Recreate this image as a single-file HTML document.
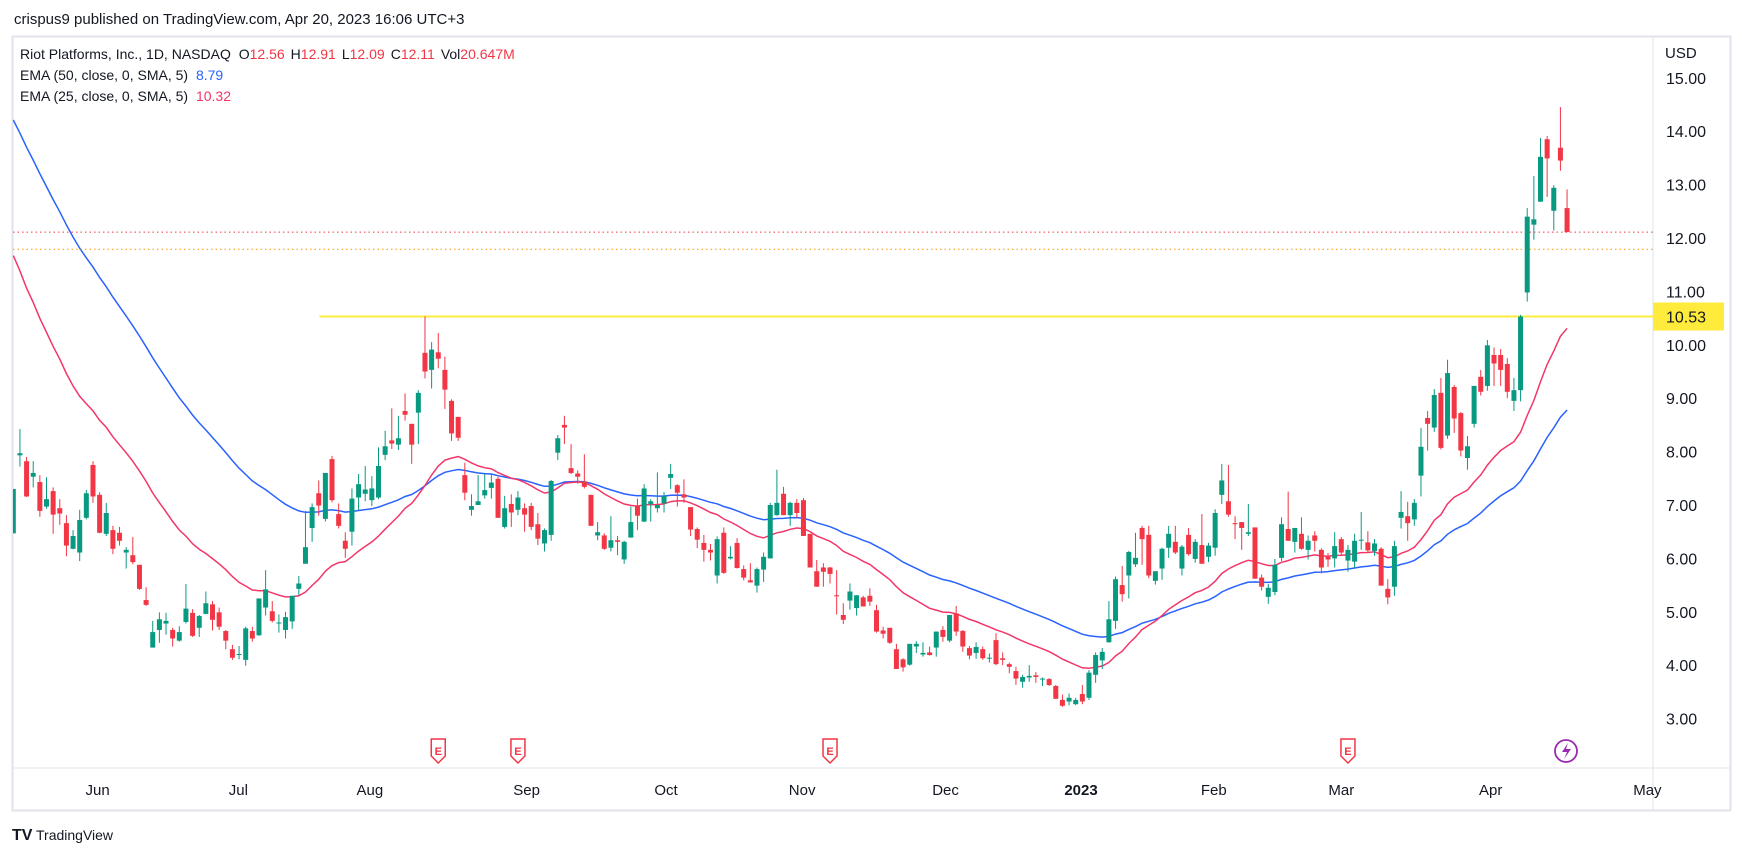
<!DOCTYPE html>
<html><head><meta charset="utf-8"><style>
body{margin:0;background:#fff;width:1742px;height:856px;overflow:hidden;font-family:"Liberation Sans",sans-serif;}
svg{position:absolute;left:0;top:0}
</style></head><body>
<svg id="chart" width="1742" height="856" xmlns="http://www.w3.org/2000/svg">
<text x="14" y="24" font-size="15" fill="#131722">crispus9 published on TradingView.com, Apr 20, 2023 16:06 UTC+3</text>
<rect x="12.5" y="36.5" width="1718" height="774" fill="none" stroke="#e0e3eb" stroke-width="2"/>
<line x1="1653" y1="37" x2="1653" y2="810" stroke="#e0e3eb"/>
<line x1="13" y1="768" x2="1730" y2="768" stroke="#e0e3eb"/>
<defs><clipPath id="plot"><rect x="13" y="37" width="1640" height="731"/></clipPath></defs>
<g id="lines" clip-path="url(#plot)"></g>
<g id="candles" clip-path="url(#plot)"></g>
<g id="axis"></g>
<g font-size="14" fill="#131722">
<text x="20" y="59">Riot Platforms, Inc., 1D, NASDAQ <tspan dx="4">O</tspan><tspan fill="#f23645">12.56</tspan><tspan dx="6">H</tspan><tspan fill="#f23645">12.91</tspan><tspan dx="6">L</tspan><tspan fill="#f23645">12.09</tspan><tspan dx="6">C</tspan><tspan fill="#f23645">12.11</tspan><tspan dx="6">Vol</tspan><tspan fill="#f23645">20.647M</tspan></text>
<text x="20" y="80">EMA (50, close, 0, SMA, 5) <tspan dx="4" fill="#2962ff">8.79</tspan></text>
<text x="20" y="101">EMA (25, close, 0, SMA, 5) <tspan dx="4" fill="#f23669">10.32</tspan></text>
</g>
<text x="1665" y="58" font-size="15" fill="#131722">USD</text>
<g>
<text x="12" y="840" font-size="16" font-weight="bold" fill="#131722">TV</text>
<text x="36" y="840" font-size="14" fill="#131722">TradingView</text>
</g>
</svg>
<script>
const opens=[6.47,7.93,7.82,7.53,7.43,6.97,7.26,6.94,6.66,6.18,6.11,6.76,7.75,7.19,6.46,6.53,6.48,6.11,6.06,5.88,5.22,4.33,4.66,4.78,4.66,4.46,4.81,4.98,4.70,4.96,5.14,4.99,4.64,4.30,4.20,4.10,4.64,4.56,5.08,5.01,4.79,4.66,4.82,5.43,5.90,6.57,7.22,6.74,7.86,6.83,6.33,6.50,7.14,7.21,7.09,7.14,7.94,8.21,8.13,8.76,8.52,8.73,9.85,9.53,9.86,9.53,8.95,8.65,7.56,6.91,7.00,7.18,7.32,7.49,6.59,7.02,6.91,6.94,6.98,6.64,6.28,6.44,7.98,8.50,7.69,7.59,7.44,7.19,6.43,6.43,6.20,6.34,5.98,6.39,6.99,6.69,7.02,6.94,7.03,7.51,7.37,7.20,6.96,6.55,6.29,6.16,5.68,6.48,6.00,6.29,5.80,5.59,5.49,5.79,6.00,6.81,7.21,6.81,7.04,7.09,6.46,5.76,5.83,5.83,5.31,4.94,5.21,5.07,5.27,5.30,5.03,4.65,4.70,4.30,4.11,4.01,4.35,4.20,4.24,4.33,4.66,4.46,4.97,4.64,4.32,4.23,4.30,4.13,4.47,4.13,4.02,3.89,3.69,3.77,3.81,3.74,3.74,3.61,3.35,3.32,3.27,3.46,3.39,3.82,4.09,4.43,4.83,5.50,5.68,5.89,6.57,6.44,5.58,5.81,6.20,6.31,5.81,6.44,5.99,6.25,6.03,6.20,7.19,7.07,6.66,6.68,6.46,6.58,5.64,5.28,5.37,6.01,6.55,6.31,6.46,6.16,6.43,6.16,6.03,6.00,6.36,5.96,5.94,6.34,6.30,6.14,6.18,5.43,5.47,6.76,6.79,6.73,7.55,8.63,8.45,9.10,8.30,9.21,8.72,7.88,8.52,9.40,9.23,9.81,9.81,9.64,8.95,9.15,10.98,12.25,12.68,13.85,12.51,13.69,12.56];
const highs=[7.30,8.42,7.90,7.82,7.56,7.52,7.33,7.11,6.81,6.53,6.91,7.28,7.82,7.24,7.04,6.61,6.59,6.21,6.40,5.88,5.46,4.83,4.99,4.98,4.70,4.73,5.52,5.05,4.94,5.38,5.20,5.08,4.66,4.38,4.36,4.72,4.72,5.25,5.78,5.20,4.95,5.00,5.30,5.67,6.89,7.03,7.46,7.60,7.92,7.03,6.49,7.31,7.58,7.73,7.54,8.08,8.39,8.81,8.67,9.09,8.52,9.15,10.53,10.05,10.22,9.78,8.98,8.65,7.79,7.20,7.56,7.59,7.59,7.53,7.17,7.20,7.26,7.03,7.04,6.85,6.56,7.47,8.31,8.67,8.14,7.65,7.95,7.19,6.68,6.47,6.79,6.42,6.33,6.97,7.12,7.39,7.11,7.61,7.24,7.77,7.39,7.48,6.96,6.58,6.44,6.27,6.41,6.58,6.23,6.38,5.87,5.91,5.83,6.11,7.04,7.66,7.34,7.06,7.11,7.13,6.46,5.97,5.91,5.84,5.78,5.16,5.53,5.31,5.30,5.44,5.13,4.72,4.70,4.40,4.13,4.40,4.45,4.43,4.35,4.63,4.73,4.94,5.11,4.66,4.36,4.43,4.35,4.22,4.60,4.24,4.05,3.97,3.82,4.00,3.87,3.77,3.76,3.63,3.45,3.47,3.39,3.63,3.91,4.24,4.32,5.20,5.66,5.86,6.14,6.48,6.61,6.61,5.76,6.20,6.61,6.61,6.25,6.57,6.36,6.83,6.29,6.92,7.77,7.75,6.79,6.68,7.02,6.58,5.70,5.52,5.99,6.77,7.25,6.57,6.77,6.43,6.51,6.19,6.10,6.49,6.40,6.25,6.46,6.87,6.51,6.36,6.21,5.61,6.33,7.26,7.06,7.11,8.44,8.76,9.17,9.38,9.72,9.25,8.74,8.29,9.23,9.53,10.09,9.95,9.92,9.75,9.38,10.56,12.56,13.16,13.87,13.91,12.99,14.45,12.91];
const lows=[6.47,7.72,7.15,7.33,6.78,6.93,6.46,6.63,6.04,6.17,5.95,6.73,7.04,6.47,6.42,6.08,6.24,5.81,5.89,5.41,5.11,4.33,4.42,4.57,4.35,4.44,4.78,4.53,4.53,4.96,4.65,4.66,4.30,4.10,4.11,3.99,4.44,4.55,4.93,4.80,4.61,4.50,4.68,5.31,5.90,6.31,6.80,6.69,7.05,6.56,6.01,6.24,6.91,7.07,6.98,7.11,7.84,8.05,8.03,8.58,7.77,8.14,9.37,9.18,9.56,8.80,8.20,8.20,7.09,6.80,7.00,7.12,7.12,6.76,6.56,6.59,6.81,6.50,6.53,6.25,6.13,6.33,7.84,8.14,7.58,7.40,7.31,6.61,6.34,6.16,6.13,6.06,5.90,6.39,6.53,6.68,6.69,6.86,6.86,7.30,6.97,7.04,6.42,6.19,5.94,5.96,5.53,5.71,5.98,5.81,5.59,5.55,5.36,5.56,6.00,6.80,6.81,6.61,6.76,6.42,5.83,5.47,5.47,5.53,4.95,4.77,5.04,4.93,5.10,5.11,4.61,4.50,4.40,3.93,3.88,3.99,4.23,4.16,4.18,4.16,4.44,4.43,4.55,4.25,4.11,4.12,4.10,4.05,4.00,4.00,3.85,3.63,3.58,3.69,3.67,3.61,3.61,3.37,3.22,3.25,3.25,3.27,3.35,3.67,3.93,4.42,4.68,5.19,5.25,5.84,5.88,5.63,5.51,5.60,6.01,6.08,5.68,6.05,5.92,5.90,5.93,6.05,7.02,6.78,6.36,6.16,6.42,5.62,5.40,5.15,5.31,5.95,6.33,6.11,6.16,5.98,6.13,5.72,5.84,5.83,6.05,5.75,5.81,6.16,6.11,6.05,5.49,5.14,5.30,6.56,6.33,6.61,7.16,8.02,8.37,8.04,8.24,8.35,7.91,7.66,8.45,9.05,9.14,9.23,9.23,9.00,8.76,8.94,10.81,11.97,12.68,12.77,12.14,13.26,12.11];
const closes=[7.30,7.97,7.16,7.60,6.89,7.11,6.82,6.84,6.24,6.42,6.72,7.22,7.16,6.48,6.85,6.18,6.33,6.16,5.93,5.43,5.13,4.62,4.86,4.83,4.50,4.62,5.06,4.55,4.92,5.16,4.85,4.72,4.46,4.14,4.21,4.69,4.50,5.25,5.42,4.83,4.80,4.90,5.30,5.53,6.21,6.96,6.99,7.60,7.09,6.61,6.18,7.12,7.39,7.29,7.31,7.73,8.10,8.15,8.25,8.69,8.13,9.10,9.50,9.91,9.74,9.16,8.34,8.26,7.23,6.98,7.07,7.28,7.42,6.76,6.94,6.86,7.14,6.82,6.59,6.37,6.53,7.45,8.25,8.45,7.60,7.53,7.34,6.61,6.49,6.18,6.34,6.31,6.31,6.68,6.80,7.31,7.07,7.00,7.17,7.58,7.23,7.14,6.54,6.35,6.16,6.11,6.36,5.73,6.03,5.82,5.64,5.55,5.80,6.03,7.00,7.04,6.81,7.04,6.85,6.42,5.83,5.47,5.75,5.71,5.29,4.85,5.38,5.31,5.10,5.19,4.63,4.59,4.42,3.93,3.96,4.40,4.40,4.23,4.19,4.63,4.53,4.94,4.63,4.35,4.18,4.34,4.13,4.14,4.02,4.10,3.97,3.75,3.78,3.80,3.78,3.75,3.63,3.37,3.24,3.39,3.35,3.32,3.86,4.19,4.25,4.86,5.61,5.33,6.12,6.01,6.36,5.68,5.76,6.18,6.46,6.11,6.22,6.08,6.31,5.90,6.24,6.85,7.46,6.82,6.64,6.57,6.49,5.62,5.47,5.45,5.88,6.64,6.33,6.57,6.18,6.33,6.33,5.83,5.98,6.23,6.11,6.16,6.33,6.35,6.15,6.28,5.49,5.27,6.23,6.87,6.66,7.04,8.09,8.52,9.06,8.07,9.47,8.62,8.02,8.10,9.23,9.12,9.99,9.65,9.53,9.12,9.15,10.53,12.40,12.35,13.52,13.49,12.94,13.45,12.11];
const priceTicks=[3,4,5,6,7,8,9,10,11,12,13,14,15];
const monthLabels=["Jun","Jul","Aug","Sep","Oct","Nov","Dec","2023","Feb","Mar","Apr","May"];
const monthBars=[12.7,33.9,53.7,77.3,98.3,118.8,140.4,160.8,180.8,200,222.5,246.1];
const earningsBars=[64,76,123,201];
const ema50Seed=14.21, ema25Seed=11.67;
const resistance=10.53, redLevel=12.11, orangeLevel=11.79;

const NS="http://www.w3.org/2000/svg";
const X0=13.3, STEP=6.64;
function xs(i){return X0+i*STEP;}
function ys(p){return 77.8+(15-p)*53.4;}
function mk(tag,attrs,parent){const e=document.createElementNS(NS,tag);for(const k in attrs)e.setAttribute(k,attrs[k]);parent.appendChild(e);return e;}
const lines=document.getElementById('lines'), cg=document.getElementById('candles'), ax=document.getElementById('axis');

// EMAs
function ema(seed,n){const k=2/(n+1);let v=seed;return closes.map((c,i)=>{if(i>0)v=c*k+v*(1-k);return v;});}
function path(vals){return vals.map((v,i)=>(i?'L':'M')+xs(i).toFixed(1)+' '+ys(v).toFixed(1)).join(' ');}
const e50=mk('path',{d:path(ema(ema50Seed,50)),fill:'none',stroke:'#2962ff','stroke-width':1.5},lines);


const e25=mk('path',{d:path(ema(ema25Seed,25)),fill:'none',stroke:'#f23669','stroke-width':1.5},lines);



// level lines
const rl=mk('line',{x1:13,x2:1653,y1:ys(redLevel),y2:ys(redLevel),stroke:'#f23645','stroke-width':1,'stroke-dasharray':'1.5 3'},lines);


const ol=mk('line',{x1:13,x2:1653,y1:ys(orangeLevel),y2:ys(orangeLevel),stroke:'#ff9800','stroke-width':1,'stroke-dasharray':'1.5 3'},lines);


const yl=mk('line',{x1:xs(46.1),x2:1653,y1:ys(resistance),y2:ys(resistance),stroke:'#ffeb3b','stroke-width':2},lines);



// candles
for(let i=0;i<closes.length;i++){
  const up=closes[i]>=opens[i], col=up?'#089981':'#f23645', x=xs(i);
  const g=mk('g',{},cg);
  
  
  mk('line',{x1:x,x2:x,y1:ys(highs[i]),y2:ys(lows[i]),stroke:col,'stroke-width':1},g);
  const t=ys(Math.max(opens[i],closes[i])), b=ys(Math.min(opens[i],closes[i]));
  mk('rect',{x:x-2.5,y:t,width:5,height:Math.max(1,b-t),fill:col},g);
}

// price axis
priceTicks.forEach(p=>{
  const t=mk('text',{x:1666,y:ys(p)+6,'font-size':16,fill:'#131722'},ax);
  t.textContent=p.toFixed(2);
  
  
});
const lb=mk('rect',{x:1653,y:ys(resistance)-14,width:71,height:28,fill:'#ffeb3b'},ax);


const lt=mk('text',{x:1666,y:ys(resistance)+6,'font-size':16,fill:'#131722'},ax);
lt.textContent=resistance.toFixed(2);



// time axis
monthLabels.forEach((m,k)=>{
  const t=mk('text',{x:xs(monthBars[k]),y:795,'font-size':15,fill:'#131722','text-anchor':'middle','font-weight':m==='2023'?'bold':'normal'},ax);
  t.textContent=m;
  
  
});

// earnings markers
earningsBars.forEach(b=>{
  const x=xs(b);
  const g=mk('g',{},ax);
  
  
  mk('path',{d:`M${x-7} 739 H${x+7} V756 L${x} 763 L${x-7} 756 Z`,fill:'#fff',stroke:'#f23645','stroke-width':1.5},g);
  const t=mk('text',{x:x,y:755,'font-size':11,fill:'#f23645','text-anchor':'middle','font-weight':'bold'},g);
  t.textContent='E';
});
const lg=mk('g',{},ax);


mk('circle',{cx:1566,cy:751,r:11,fill:'#fff',stroke:'#9c27b0','stroke-width':1.8},lg);
mk('path',{d:'M1568 743 L1562 752 L1567 752 L1564 759 L1571 749 L1566 749 Z',fill:'#9c27b0'},lg);
</script>
</body></html>
